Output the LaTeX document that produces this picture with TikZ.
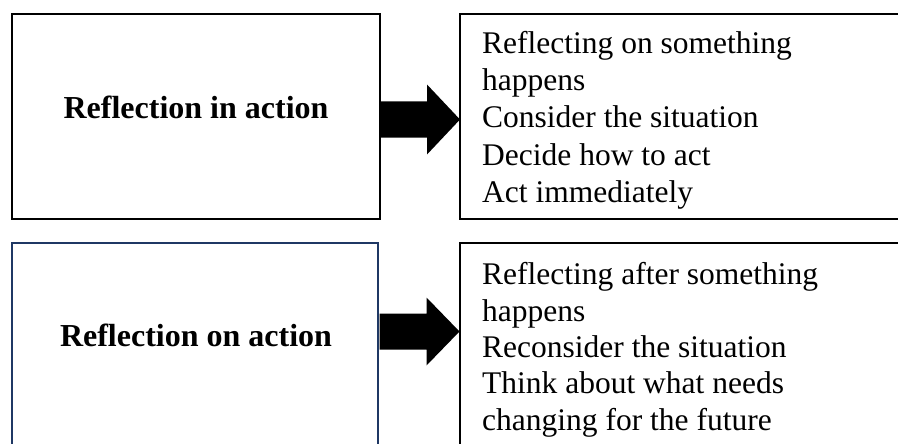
\documentclass[tikz,border=0pt]{standalone}
\usepackage{fontspec}
\setmainfont{Liberation Serif}
\usetikzlibrary{calc}
\definecolor{navy}{RGB}{31,56,100}
\begin{document}
\begin{tikzpicture}[x=1pt,y=-1pt,
  box/.style={draw, line width=2.4pt, inner sep=0pt, outer sep=0pt, anchor=north west},
  title/.style={font=\fontsize{32}{38}\selectfont\bfseries, anchor=base, inner sep=0pt},
  item/.style={font=\fontsize{31.5}{37}\selectfont, anchor=base west, inner sep=0pt},
  blockarrow/.style={fill=black}]
\useasboundingbox (0,0) rectangle (898,444);
\clip (0,0) rectangle (898,444);

% upper row: reflection in action
\node[box, minimum width=368pt, minimum height=205pt] (inbox) at (12,14) {};
\node[box, minimum width=470pt, minimum height=205pt] (inlist) at (460,14) {};
\node[title] (intitle) at (196,118) {Reflection in action};
\node[item] (in1) at (482,54)  {Reflecting on something};
\node[item] (in2) at (482,91)  {happens};
\node[item] (in3) at (482,128) {Consider the situation};
\node[item] (in4) at (482,165) {Decide how to act};
\node[item] (in5) at (482,202) {Act immediately};

% lower row: reflection on action
\node[box, draw=navy, line width=2.2pt, minimum width=366pt, minimum height=260pt] (onbox) at (12,243) {};
\node[box, minimum width=470pt, minimum height=260pt] (onlist) at (460,243) {};
\node[title] (ontitle) at (196,346) {Reflection on action};
\node[item] (on1) at (482,284) {Reflecting after something};
\node[item] (on2) at (482,321) {happens};
\node[item] (on3) at (482,357) {Reconsider the situation};
\node[item] (on4) at (482,393) {Think about what needs};
\node[item] (on5) at (482,430) {changing for the future};

% block arrows from each title box to its list
\coordinate (a1) at ($(inbox.east)+(0,3)$);
\coordinate (a2) at ($(onbox.east |- 0,331.5)+(1.5,0)$);
\fill[blockarrow] (a1) ++(0,-18) -- ++(47,0) -- ++(0,-17) -- ++(33,35)
  -- ++(-33,35) -- ++(0,-17) -- ++(-47,0) -- cycle;
\fill[blockarrow] (a2) ++(0,-18) -- ++(47,0) -- ++(0,-16) -- ++(33,34)
  -- ++(-33,34) -- ++(0,-16) -- ++(-47,0) -- cycle;
\end{tikzpicture}
\end{document}
